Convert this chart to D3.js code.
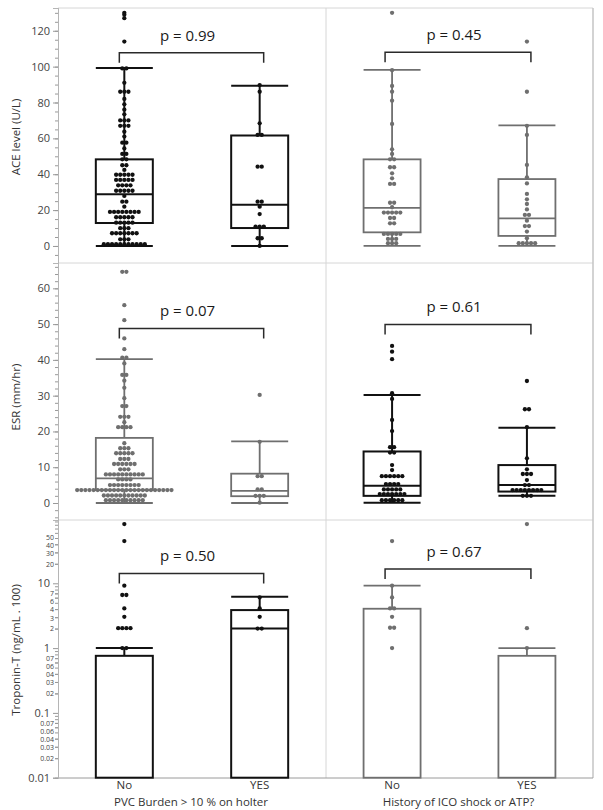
<!DOCTYPE html>
<html><head><meta charset="utf-8">
<script src="https://cdn.jsdelivr.net/npm/d3@7"></script>
<style>body{margin:0;background:#fff}svg{display:block}text{font-family:"Open Sans",sans-serif}</style>
</head><body><svg id="c" width="603" height="810"></svg>
<script>
// ---------- data ----------
const groups = ["No", "YES"];
const xTitles = ["PVC Burden > 10 % on holter", "History of ICO shock or ATP?"];
const yTitles = ["ACE level (U/L)", "ESR (mm/hr)", "Troponin-T (ng/mL . 100)"];
const pLabels = [["p = 0.99", "p = 0.45"], ["p = 0.07", "p = 0.61"], ["p = 0.50", "p = 0.67"]];

// ACE – box stats [whiskerLow, q1, median, q3, whiskerHigh]
const acePvcBox = [[0, 12.8, 28.8, 48.3, 99.3], [0, 10, 23, 61.6, 89.3]];
const aceIcoBox = [[0, 7.6, 21.2, 48.3, 98.2], [0, 5.6, 15.4, 37.3, 67.2]];
const acePvcNo = [130,129,127,114,99,99,91,86,86,86,82,79,76,73.4,70,70,70,67,67,67,63.7,61,57.6,57.6,54.4,51.3,51.3,48.3,48.3,45,45,42.4,
  39.7,39.7,39.7,39.7,39.7,36.8,36.8,36.8,36.8,36.8,33.8,33.8,33.8,33.8,30.8,30.8,30.8,30.8,30.8,27.9,24.7,24.7,21.9,
  19,19,19,19,19,19,19,19,16,16,16,16,16,13,13,13,13,13,9.9,9.9,9.9,7.1,7.1,7.1,7.1,7.1,7.1,7.1,3.7,3.7,3.7,
  1,1,1,1,1,1,1,1,1,1,1];
const acePvcYes = [89.7,86,68.4,61.9,61.9,44.2,44.2,24.7,24.7,21.9,17.8,10.8,10.8,10.8,4.3,4.3,0];
const aceIcoNo = [130,98,89.2,86,81,68,53.9,51.3,48.3,48.3,43.9,43.9,40.5,37.7,34.6,34.6,24.1,24.1,21.6,18.6,18.6,18.6,18.6,18.6,
  15.6,15.6,12.6,12.6,6.7,6.7,6.7,6.7,6.7,3.9,3.9,3.9,1.5,1.5,1.5];
const aceIcoYes = [114,86,67,61.9,45.2,38.3,34.9,29,26,23.4,20.4,17.3,17.3,14.1,11.1,11.1,8,4.3,1.5,1.5,1.5,1.5,1.5];

// ESR
const esrPvcBox = [[0, 3.6, 6.9, 18.2, 40.2], [0, 1.9, 3.4, 8.2, 17.2]];
const esrIcoBox = [[0.1, 2.0, 4.8, 14.4, 30.2], [2.0, 3.2, 5.0, 10.6, 21.0]];
const esrPvcNo = [64.6,64.6,55.3,51.1,46,43,40.6,40.6,39,35.8,35.8,34.2,32.2,29.3,27.1,27.1,24.1,24.1,24.1,22.6,21.2,21.2,21.2,21.2,
  16.7,15.3,15.3,15.3,13.9,13.9,13.9,13.9,13.9,12.3,12.3,12.3,10.9,10.9,10.9,10.9,10.9,10.9,9.4,9.4,9.4,
  8,8,8,8,8,8,8,8,8,8,6.6,6.6,6.6,6.6,5,5,5,5,5,5,5,5,
  3.6,3.6,3.6,3.6,3.6,3.6,3.6,3.6,3.6,3.6,3.6,3.6,3.6,3.6,3.6,3.6,3.6,3.6,3.6,3.6,3.6,3.6,3.6,3.6,
  2.1,2.1,2.1,2.1,2.1,2.1,2.1,2.1,2.1,2.1,2.1,0.8,0.8,0.8,0.8,0.8,0.8,0.8,0.8,0.8,0.8];
const esrPvcYes = [30.2,17.1,7.5,7.5,3.8,3.8,2,2,2,0.1];
const esrIcoNo = [43.9,42.3,40.2,30.7,29.1,23.2,20.1,15.6,15.6,14.1,14.1,10.6,9.2,7.5,7.5,7.5,7.5,7.5,7.5,5.3,5.3,5.3,5.3,
  3.8,3.8,3.8,3.8,3.8,2.5,2.5,2.5,2.5,2.5,2.5,2.5,0.8,0.8,0.8,0.8,0.8,0.8];
const esrIcoYes = [34.1,26.2,26.2,21.2,12.5,9.4,8.1,8.1,8.1,6.4,5,5,3.6,3.6,3.6,3.6,3.6,3.6,3.6,3.6,2,2,2];

// Troponin-T – [bar height, error cap high, error cap low]
const trpPvcBar = [[0.76, 1.0, null], [3.86, 6.2, 2.0]];
const trpIcoBar = [[4.05, 9.2, null], [0.76, 1.0, null]];
const trpPvcNo = [82,44.8,9.2,6.6,6.6,4.1,3.04,2.03,2.03,2.03,2.03,1,1];
const trpPvcYes = [6.06,4.1,3.04,2.0,2.0];
const trpIcoNo = [44.8,9.2,6.06,4.1,4.1,3.04,2.06,2.06,1];
const trpIcoYes = [82,2.03,1];

// tick values / labels
const aceTicks = [0, 20, 40, 60, 80, 100, 120];
const esrTicks = [0, 10, 20, 30, 40, 50, 60];
const trpMajorTicks = [10, 1, 0.1, 0.01];
const trpMajorLabels = ["10", "1", "0.1", "0.01"];
const trpMinorTicks = [50, 40, 30, 20, 7, 6, 4, 3, 2, 0.7, 0.6, 0.4, 0.3, 0.2, 0.07, 0.06, 0.04, 0.03, 0.02];
const trpMinorLabels = ["50", "40", "30", "20", "7", "6", "4", "3", "2", "07", "06", "04", "03", "02", "0.07", "0.06", "0.04", "0.03", "0.02"];
// bracket heights (data units) per row [left, right]
const bracketY = [[107.7, 108], [48.8, 49.9], [14.2, 16.6]];

// ---------- layout ----------
const svg = d3.select("#c");
const X0 = 58, XM = 326, X1 = 593;
const rows = [[8, 263], [263, 520], [520, 778]];
const BLACK = "#111", GREY = "#6f6f6f";
const colors = [[BLACK, GREY], [GREY, BLACK], [BLACK, GREY]];
const LIB = "Liberation Sans, Arial, sans-serif";

const xLeft = d3.scalePoint().domain(groups).range([X0, XM]).padding(0.49);
const xRight = d3.scalePoint().domain(groups).range([XM, X1]).padding(0.49);
const xs = [xLeft, xRight];
const boxW = 57;

const yAce = d3.scaleLinear().domain([-9.5, 132.7]).range([rows[0][1], rows[0][0]]);
const yEsr = d3.scaleLinear().domain([-4.75, 67.08]).range([rows[1][1], rows[1][0]]);
const yTrp = d3.scaleLog().domain([0.01, 94.8]).range([777.7, rows[2][0]]);

// frame
const frame = svg.append("g").attr("stroke", "#d6d6d6").attr("stroke-width", 1).attr("fill", "none");
rows.forEach(r => {
  frame.append("line").attr("x1", X0).attr("x2", X1).attr("y1", r[0]).attr("y2", r[0]);
});
frame.append("line").attr("x1", XM).attr("x2", XM).attr("y1", 8).attr("y2", 778);
frame.append("line").attr("x1", X1).attr("x2", X1).attr("y1", 8).attr("y2", 778).attr("stroke", "#c4c4c4").attr("stroke-width", 1.5);
svg.append("line").attr("x1", X0).attr("x2", X1).attr("y1", 778).attr("y2", 778).attr("stroke", "#9a9a9a");

// y axes
function styleAxis(g, fs, fam) {
  g.select(".domain").attr("stroke", "#b5b5b5");
  g.selectAll(".tick line").attr("stroke", "#999");
  g.selectAll(".tick text").attr("fill", "#444").attr("font-size", fs).attr("font-family", fam || "Open Sans, sans-serif");
}
function linAxis(y, ticks, minorStep) {
  const [a, b] = y.domain();
  const minor = d3.range(Math.ceil(a / minorStep) * minorStep, b, minorStep);
  const gm = svg.append("g").attr("transform", `translate(${X0},0)`)
    .call(d3.axisLeft(y).tickValues(minor).tickSize(3).tickFormat(""));
  styleAxis(gm, 10);
  const g = svg.append("g").attr("transform", `translate(${X0},0)`)
    .call(d3.axisLeft(y).tickValues(ticks).tickSize(5).tickPadding(3));
  styleAxis(g, 11);
}
linAxis(yAce, aceTicks, 5);
linAxis(yEsr, esrTicks, 2);
{
  const allMinor = [];
  [0.01, 0.1, 1, 10].forEach(d => { for (let k = 2; k <= 9; k++) if (d * k < 94.8) allMinor.push(d * k); });
  const g0 = svg.append("g").attr("transform", `translate(${X0},0)`)
    .call(d3.axisLeft(yTrp).tickValues(allMinor).tickSize(3).tickFormat(""));
  styleAxis(g0, 9, LIB);
  const g1 = svg.append("g").attr("transform", `translate(${X0},0)`)
    .call(d3.axisLeft(yTrp).tickValues(trpMinorTicks).tickSize(3).tickPadding(1).tickFormat((d, i) => trpMinorLabels[i]));
  styleAxis(g1, 7, LIB);
  const g2 = svg.append("g").attr("transform", `translate(${X0},0)`)
    .call(d3.axisLeft(yTrp).tickValues(trpMajorTicks).tickSize(5).tickPadding(3).tickFormat((d, i) => trpMajorLabels[i]));
  styleAxis(g2, 11, LIB);

  // de-clutter the log-axis labels: push overlapping labels apart (label text only, ticks stay)
  const labs = [];
  g1.selectAll(".tick").each(function (d) { labs.push({ el: d3.select(this).select("text"), y: yTrp(d), h: 7, fixed: false }); });
  g2.selectAll(".tick").each(function (d) { labs.push({ el: d3.select(this).select("text"), y: yTrp(d), h: 11, fixed: true }); });
  labs.forEach(l => l.y0 = l.y);
  for (let it = 0; it < 200; it++) {
    labs.sort((a, b) => a.y - b.y);
    for (let i = 1; i < labs.length; i++) {
      const a = labs[i - 1], b = labs[i];
      const need = (a.h + b.h) / 2 * 1.15;
      const gap = b.y - a.y;
      if (gap < need) {
        const push = need - gap;
        if (a.fixed && !b.fixed) b.y += push;
        else if (b.fixed && !a.fixed) a.y -= push;
        else if (!a.fixed && !b.fixed) { a.y -= push / 2; b.y += push / 2; }
      }
    }
  }
  labs.forEach(l => l.el.attr("y", l.y - l.y0));
}

// y titles
const yTitleCenters = [137, 397, 650];
yTitles.forEach((t, i) => {
  svg.append("text").attr("transform", `translate(20,${yTitleCenters[i]}) rotate(-90)`)
    .attr("text-anchor", "middle").attr("font-size", 11.5).attr("fill", "#333").text(t);
});

// x labels
xs.forEach((x, p) => {
  groups.forEach(g => {
    svg.append("text").attr("x", x(g)).attr("y", 789).attr("text-anchor", "middle")
      .attr("font-family", LIB).attr("font-size", 11.5).attr("fill", "#333").text(g);
  });
  svg.append("text").attr("x", (x(groups[0]) + x(groups[1])) / 2 - 1).attr("y", 806).attr("text-anchor", "middle")
    .attr("font-family", LIB).attr("font-size", 11.5).attr("fill", "#333").text(xTitles[p]);
});

// dots
function dots(values, x, y, color) {
  const counts = d3.rollup(values, v => v.length, d => d);
  const pts = [];
  counts.forEach((n, v) => { for (let i = 0; i < n; i++) pts.push({ v, off: (i - (n - 1) / 2) * 4.1 }); });
  svg.append("g").selectAll("circle").data(pts).join("circle")
    .attr("cx", d => x + d.off).attr("cy", d => y(d.v)).attr("r", 2.15).attr("fill", color);
}

function boxplot(stats, cx, y, color, sw) {
  const g = svg.append("g").attr("stroke", color).attr("stroke-width", sw).attr("fill", "none");
  const [lo, q1, md, q3, hi] = stats;
  g.append("line").attr("x1", cx).attr("x2", cx).attr("y1", y(q3)).attr("y2", y(hi));
  g.append("line").attr("x1", cx).attr("x2", cx).attr("y1", y(q1)).attr("y2", y(lo));
  [lo, hi].forEach(v => g.append("line").attr("x1", cx - boxW / 2).attr("x2", cx + boxW / 2).attr("y1", y(v)).attr("y2", y(v)));
  g.append("rect").attr("x", cx - boxW / 2).attr("width", boxW).attr("y", y(q3)).attr("height", y(q1) - y(q3));
  g.append("line").attr("x1", cx - boxW / 2).attr("x2", cx + boxW / 2).attr("y1", y(md)).attr("y2", y(md));
}

function barplot(stats, cx, y, color, sw) {
  const g = svg.append("g").attr("stroke", color).attr("stroke-width", sw).attr("fill", "none");
  const [m, hi, lo] = stats;
  g.append("rect").attr("x", cx - boxW / 2).attr("width", boxW).attr("y", y(m)).attr("height", y(0.01) - y(m)).attr("fill", "#fff");
  g.append("line").attr("x1", cx).attr("x2", cx).attr("y1", y(m)).attr("y2", y(hi));
  g.append("line").attr("x1", cx - boxW / 2).attr("x2", cx + boxW / 2).attr("y1", y(hi)).attr("y2", y(hi));
  if (lo != null) g.append("line").attr("x1", cx - boxW / 2).attr("x2", cx + boxW / 2).attr("y1", y(lo)).attr("y2", y(lo));
}

function bracket(x, y, v, label, dx) {
  const xa = x(groups[0]) - 5 - dx, xb = x(groups[1]) + 4;
  const yy = y(v);
  svg.append("path").attr("d", `M${xa},${yy + 10}V${yy}H${xb}V${yy + 10}`)
    .attr("fill", "none").attr("stroke", "#2a2a2a").attr("stroke-width", 1.5);
  svg.append("text").attr("x", (xa + xb) / 2 - 4).attr("y", yy - 12).attr("text-anchor", "middle")
    .attr("font-size", 15).attr("fill", "#1a1a1a").text(label);
}

const aceBoxes = [acePvcBox, aceIcoBox], aceDots = [[acePvcNo, acePvcYes], [aceIcoNo, aceIcoYes]];
const esrBoxes = [esrPvcBox, esrIcoBox], esrDots = [[esrPvcNo, esrPvcYes], [esrIcoNo, esrIcoYes]];
const trpBars = [trpPvcBar, trpIcoBar], trpDots = [[trpPvcNo, trpPvcYes], [trpIcoNo, trpIcoYes]];

[0, 1].forEach(p => {
  const x = xs[p];
  groups.forEach((g, gi) => {
    const c0 = colors[0][p], c1 = colors[1][p], c2 = colors[2][p];
    boxplot(aceBoxes[p][gi], x(g), yAce, c0, c0 === BLACK ? 2 : 1.8);
    dots(aceDots[p][gi], x(g), yAce, c0);
    boxplot(esrBoxes[p][gi], x(g), yEsr, c1, c1 === BLACK ? 2 : 1.8);
    dots(esrDots[p][gi], x(g), yEsr, c1);
    barplot(trpBars[p][gi], x(g), yTrp, c2, c2 === BLACK ? 2 : 1.8);
    dots(trpDots[p][gi], x(g), yTrp, c2);
  });
  bracket(x, yAce, bracketY[0][p], pLabels[0][p], p ? 2 : 0);
  bracket(x, yEsr, bracketY[1][p], pLabels[1][p], p ? 2 : 0);
  bracket(x, yTrp, bracketY[2][p], pLabels[2][p], p ? 2 : 0);
});
</script></body></html>
